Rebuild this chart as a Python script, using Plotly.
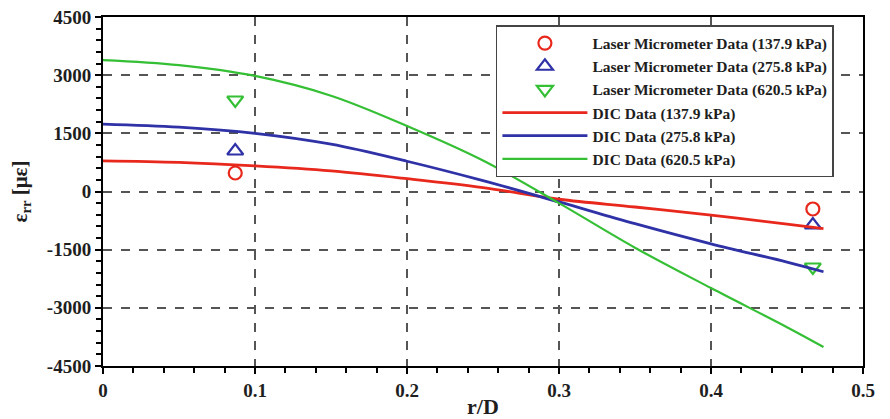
import plotly.graph_objects as go

# DIC curves
dic_x = [0, 0.05, 0.1, 0.15, 0.2, 0.25, 0.3, 0.35, 0.4, 0.45, 0.474]
dic_137 = [790, 750, 660, 530, 330, 100, -200, -400, -610, -840, -960]
dic_275 = [1740, 1660, 1500, 1220, 780, 280, -270, -830, -1350, -1820, -2070]
dic_620 = [3390, 3260, 2980, 2470, 1690, 800, -300, -1450, -2490, -3500, -4010]

# Laser micrometer points
laser_x = [0.087, 0.467]
laser_137 = [477, -451]
laser_275 = [1044, -864]
laser_620 = [2360, -1947]

# Tick labels
y_ticks = [-4500, -3000, -1500, 0, 1500, 3000, 4500]
y_labels = ["-4500", "-3000", "-1500", "0", "1500", "3000", "4500"]
x_ticks = [0, 0.1, 0.2, 0.3, 0.4, 0.5]
x_labels = ["0", "0.1", "0.2", "0.3", "0.4", "0.5"]

RED = "#e8281c"
BLUE = "#2f31a6"
GREEN = "#34bf34"
FONT = "Liberation Serif"
TXT = "#1e1e1e"

fig = go.Figure()
fig.add_trace(go.Scatter(x=laser_x, y=laser_137, mode="markers",
                         name="Laser Micrometer Data (137.9 kPa)",
                         marker=dict(symbol="circle-open", color=RED, size=13, line=dict(width=2.2, color=RED))))
fig.add_trace(go.Scatter(x=laser_x, y=laser_275, mode="markers",
                         name="Laser Micrometer Data (275.8 kPa)",
                         marker=dict(symbol="triangle-up-open", color=BLUE, size=14, line=dict(width=2.2, color=BLUE))))
fig.add_trace(go.Scatter(x=laser_x, y=laser_620, mode="markers",
                         name="Laser Micrometer Data (620.5 kPa)",
                         marker=dict(symbol="triangle-down-open", color=GREEN, size=14, line=dict(width=2.2, color=GREEN))))
fig.add_trace(go.Scatter(x=dic_x, y=dic_137, mode="lines", name="DIC Data (137.9 kPa)",
                         line=dict(color=RED, width=2.8, shape="spline")))
fig.add_trace(go.Scatter(x=dic_x, y=dic_275, mode="lines", name="DIC Data (275.8 kPa)",
                         line=dict(color=BLUE, width=2.8, shape="spline")))
fig.add_trace(go.Scatter(x=dic_x, y=dic_620, mode="lines", name="DIC Data (620.5 kPa)",
                         line=dict(color=GREEN, width=2.2, shape="spline")))

axis_common = dict(
    showline=True, linecolor="black", linewidth=2, mirror=True,
    ticks="outside", ticklen=6, tickwidth=1.5, tickcolor="black",
    showgrid=True, gridcolor="#555555", griddash="dash", gridwidth=1.5,
    zeroline=False, automargin=False,
    tickfont=dict(family=FONT, size=19, color=TXT, weight="bold"),
)

fig.update_xaxes(range=[0, 0.5], tickmode="array", tickvals=x_ticks, ticktext=x_labels,
                 minor=dict(dtick=0.02, tick0=0, ticks="outside", ticklen=5, tickcolor="black", showgrid=False),
                 title=dict(text="r/D", font=dict(family=FONT, size=22, color=TXT, weight="bold"), standoff=4),
                 **axis_common)
fig.update_yaxes(range=[-4500, 4500], tickmode="array", tickvals=y_ticks, ticktext=y_labels,
                 minor=dict(dtick=300, tick0=0, ticks="outside", ticklen=5, tickcolor="black", showgrid=False),
                 title=dict(text="ε<sub>rr</sub> [με]", font=dict(family=FONT, size=21, color=TXT, weight="bold"), standoff=14),
                 **axis_common)

fig.update_layout(
    width=890, height=419,
    margin=dict(l=103, r=27, t=17, b=53),
    plot_bgcolor="white", paper_bgcolor="white",
    legend=dict(x=0.517, y=0.977, xanchor="left", yanchor="top",
                bgcolor="white", bordercolor="#444444", borderwidth=1.5,
                font=dict(family=FONT, size=15.5, color=TXT, weight="bold"),
                itemwidth=85, tracegroupgap=0),
    showlegend=True,
)

fig.write_html("out.html")
